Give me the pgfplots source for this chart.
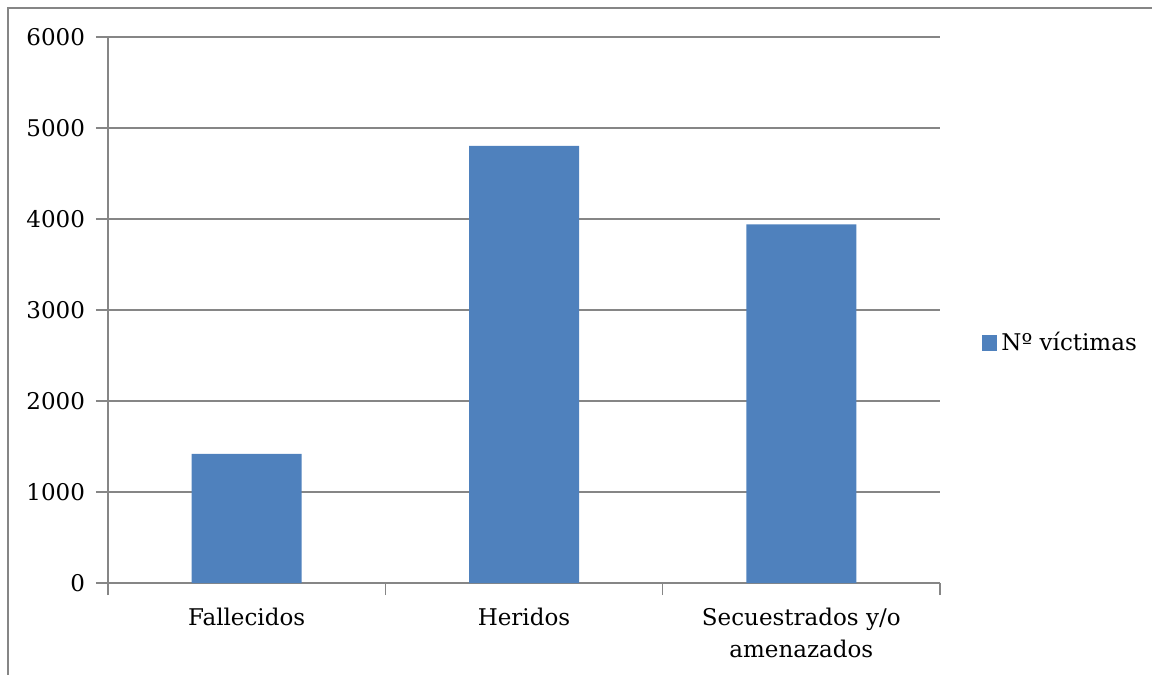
\documentclass[border=0pt]{standalone}
\usepackage{fontspec}
\setmainfont{DejaVu Serif}
\usepackage{pgfplots}
\pgfplotsset{compat=1.18}
\definecolor{barblue}{HTML}{4F81BD}
\definecolor{axgray}{HTML}{868686}
\begin{document}
\begin{tikzpicture}[x=1pt,y=1pt]
\path[use as bounding box] (0,0) rectangle (576,337.5);
\draw[axgray,line width=0.9pt] (4,0) -- (4,333.5) -- (576,333.5);
\begin{axis}[
  at={(54pt,46pt)}, anchor=south west,
  scale only axis, width=416pt, height=273pt,
  xmin=-0.5, xmax=2.5, ymin=0, ymax=6000,
  axis x line*=bottom, axis y line*=left,
  axis line style={axgray, line width=0.8pt},
  ytick={0,1000,...,6000},
  ymajorgrids, grid style={axgray, line width=0.8pt},
  xtick={-0.5,0.5,1.5,2.5}, xticklabels={},
  extra x ticks={0,1,2},
  extra x tick labels={Fallecidos,Heridos,{Secuestrados y/o\\amenazados}},
  extra x tick style={major tick length=0pt, grid=none,
    xticklabel style={align=center, yshift=-9pt, font=\fontsize{11.5}{16}\selectfont}},
  major tick length=6pt,
  tick style={axgray, line width=0.8pt},
  ytick align=outside, xtick align=outside,
  tick label style={font=\fontsize{11.5}{16}\selectfont, text=black},
  /pgf/number format/assume math mode=true,
  /pgf/number format/1000 sep={},
  yticklabel style={xshift=-2pt},
  ybar, bar width=55pt,
  legend style={at={(1.0505,0.4396)}, anchor=west, draw=none, fill=none,
    font=\fontsize{11.5}{13}\selectfont, inner sep=0pt},
  legend image code/.code={\fill[barblue] (0pt,-4pt) rectangle (7.5pt,4pt);},
  clip=false,
]
\addplot[fill=barblue, draw=none] coordinates {(0,1420) (1,4805) (2,3940)};
\addlegendentry{Nº víctimas}
\end{axis}
\end{tikzpicture}
\end{document}
